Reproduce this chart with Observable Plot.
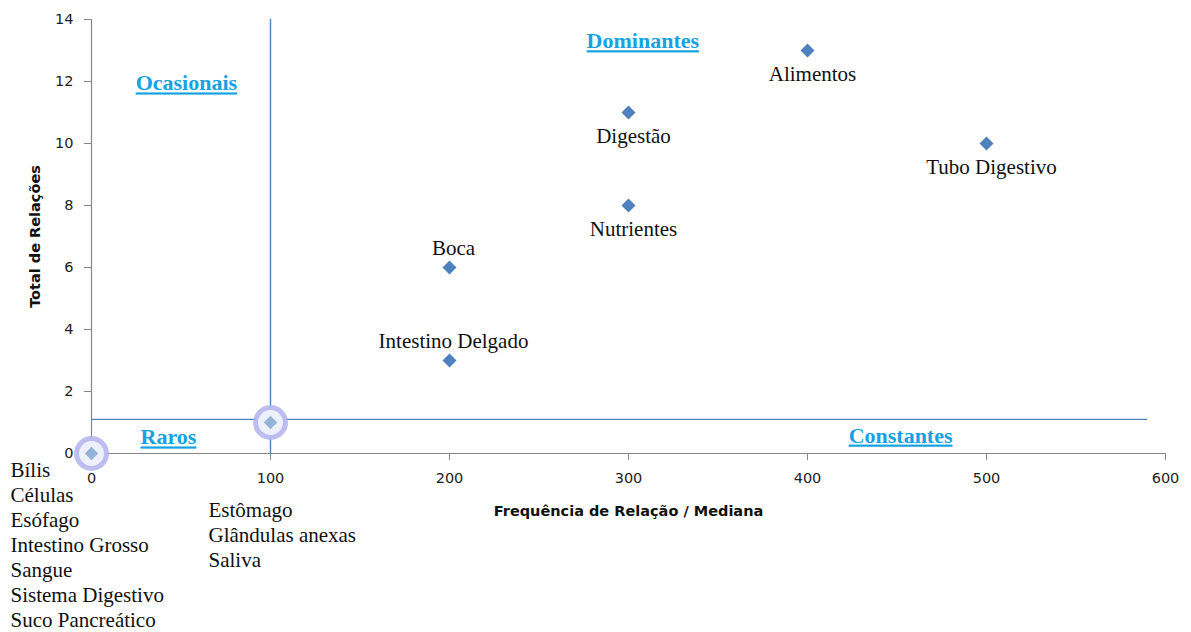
<!DOCTYPE html>
<html><head><meta charset="utf-8">
<script src="https://cdn.jsdelivr.net/npm/d3@7"></script>
<script src="https://cdn.jsdelivr.net/npm/@observablehq/plot@0.6"></script>
<style>
html,body{margin:0;padding:0;background:#fff;}
.quad text{text-decoration:underline;}
</style>
</head><body><div id="chart"></div>
<script>
// Main data points
const terms = ["Alimentos","Digestão","Tubo Digestivo","Nutrientes","Boca","Intestino Delgado"];
const freq  = [400, 300, 500, 300, 200, 200];
const total = [13, 11, 10, 8, 6, 3];
const labelSide = ["below","below","below","below","above","above"];

// Highlighted (grouped) points
const groupFreq  = [0, 100];
const groupTotal = [0, 1];
const groupTerms = [
  ["Bílis","Células","Esófago","Intestino Grosso","Sangue","Sistema Digestivo","Suco Pancreático"],
  ["Estômago","Glândulas anexas","Saliva"]
];

// Quadrant dividers (data units)
const splitX = 100;
const splitY = 1.1;

// Quadrant annotations (data units)
const quadNames = ["Ocasionais","Dominantes","Raros","Constantes"];
const quadX = [53, 308, 43, 452];
const quadY = [11.94, 13.3, 0.52, 0.58];

const xTicks = [0,100,200,300,400,500,600];
const yTicks = [0,2,4,6,8,10,12,14];
const xTitle = "Frequência de Relação / Mediana";
const yTitle = "Total de Relações";

const pts = terms.map((t,i)=>({term:t, x:freq[i], y:total[i], side:labelSide[i]}));
const groups = groupFreq.map((x,i)=>({x, y:groupTotal[i], text:groupTerms[i].join("\n")}));
const quads = quadNames.map((n,i)=>({name:n, x:quadX[i], y:quadY[i]}));

const blue = "#4f81bd";
const axisGray = "#868686";
const serif = "'Liberation Serif', 'Times New Roman', serif";

const chart = Plot.plot({
  width: 1191, height: 632,
  marginLeft: 91, marginRight: 26, marginTop: 19, marginBottom: 179,
  style: {fontFamily: "'DejaVu Sans', sans-serif", background: "#fff", overflow: "visible"},
  x: {domain: [0,600], ticks: xTicks},
  y: {domain: [0,14], ticks: yTicks},
  marks: [
    // axes
    Plot.axisX({ticks: xTicks, tickSize: 7, tickPadding: 12, label: null, stroke: axisGray, fill: "#222", fontSize: 14.5}),
    Plot.axisY({ticks: yTicks, tickSize: 7, tickPadding: 11, label: null, stroke: axisGray, fill: "#222", fontSize: 14.5}),
    Plot.ruleY([0], {stroke: axisGray, strokeWidth: 1.2}),
    Plot.ruleX([0], {stroke: axisGray, strokeWidth: 1.2}),
    // quadrant lines
    Plot.ruleX([splitX], {y1: 0, y2: 14, stroke: blue, strokeWidth: 1.4}),
    Plot.ruleY([splitY], {x1: 0, x2: 590, stroke: blue, strokeWidth: 1.4}),
    // highlighted groups
    Plot.dot(groups, {x: "x", y: "y", r: 15, stroke: "#b3b3ee", strokeWidth: 5, strokeOpacity: 0.85, fill: "#eef0fb"}),
    Plot.dot(groups, {x: "x", y: "y", symbol: "diamond2", r: 6, fill: "#93b3d9", stroke: "none"}),
    Plot.text(groups.slice(0,1), {x: "x", y: "y", text: "text", textAnchor: "start", lineAnchor: "top",
      dx: -81, dy: 6, fontFamily: serif, fontSize: 21, lineHeight: 1.19, fill: "#111"}),
    Plot.text(groups.slice(1,2), {x: "x", y: "y", text: "text", textAnchor: "start", lineAnchor: "top",
      dx: -62, dy: 77, fontFamily: serif, fontSize: 21, lineHeight: 1.19, fill: "#111"}),
    // main points
    Plot.dot(pts, {x: "x", y: "y", symbol: "diamond2", r: 6.3, fill: blue, stroke: "none"}),
    Plot.text(pts.filter(d=>d.side==="below"), {x: "x", y: "y", text: "term", dy: 24, dx: 5, fontFamily: serif, fontSize: 21, fill: "#111"}),
    Plot.text(pts.filter(d=>d.side==="above"), {x: "x", y: "y", text: "term", dy: -19, dx: 4, fontFamily: serif, fontSize: 21, fill: "#111"}),
    // axis titles
    Plot.text([xTitle], {frameAnchor: "bottom", dy: 62, fontWeight: "bold", fontSize: 14.5, fill: "#111"}),
    Plot.text([yTitle], {frameAnchor: "left", textAnchor: "middle", dx: -56, rotate: -90, fontWeight: "bold", fontSize: 14.5, fill: "#111"})
  ]
});

// quadrant labels rendered with the same scales, then moved in for underline styling
const quadMark = Plot.text(quads, {x: "x", y: "y", text: "name", fontFamily: serif, fontWeight: "bold", fontSize: 22, fill: "#16a2e2"});
const chart2 = Plot.plot({
  width: 1191, height: 632,
  marginLeft: 91, marginRight: 26, marginTop: 19, marginBottom: 179,
  x: {domain: [0,600], axis: null}, y: {domain: [0,14], axis: null},
  marks: [quadMark]
});
const g = chart2.querySelector("g[aria-label='text']");
g.classList.add("quad");
chart.appendChild(g);
document.getElementById("chart").appendChild(chart);
</script>
</body></html>
